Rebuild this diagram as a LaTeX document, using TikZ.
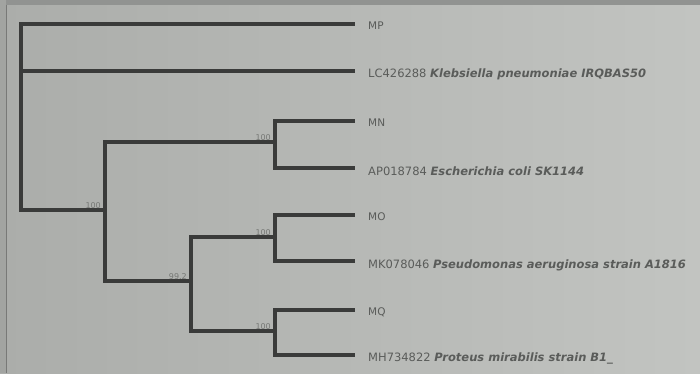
\documentclass[tikz,border=0pt]{standalone}
\usepackage{fontspec}
\setmainfont{DejaVu Sans}
\usetikzlibrary{positioning}
\definecolor{paperL}{HTML}{ABADAA}
\definecolor{paperR}{HTML}{C2C4C1}
\definecolor{ink}{HTML}{3A3B3A}
\definecolor{txt}{HTML}{5A5C5A}
\definecolor{boottxt}{HTML}{767875}
\begin{document}
\begin{tikzpicture}[x=1pt,y=-1pt,
  branch/.style={draw=ink,line width=3.6pt,line join=miter},
  leaf/.style={anchor=west,inner sep=0pt,text=txt,font=\fontsize{10.5}{12}\selectfont},
  taxon/.style={leaf,font=\fontsize{11.5}{13}\selectfont},
  boot/.style={anchor=south east,inner sep=1pt,text=boottxt,font=\fontsize{8}{9}\selectfont}]
% paper
\useasboundingbox (0,0) rectangle (700,373);
\shade[left color=paperL,right color=paperR] (0,0) rectangle (700,373);
\fill[paperL!85!black] (0,0) rectangle (700,5);
\fill[paperL!95!black] (0,0) rectangle (6,373);
\draw[paperL!70!black,line width=1pt] (6.5,5) -- (6.5,373);
% leaf tips
\coordinate (tMP) at (355,24);
\coordinate (tLC) at (355,71);
\coordinate (tMN) at (355,121);
\coordinate (tAP) at (355,168);
\coordinate (tMO) at (355,215);
\coordinate (tMK) at (355,261);
\coordinate (tMQ) at (355,310);
\coordinate (tMH) at (355,355);
% inner nodes
\coordinate (nB) at (275,142);
\coordinate (nD) at (275,237);
\coordinate (nE) at (275,331);
\coordinate (nC) at (191,281);
\coordinate (nA) at (105,210);
\coordinate (nR) at (21,117);
% branches
\draw[branch] (nR) |- (tMP);
\draw[branch] (nR) |- (tLC);
\draw[branch] (nR) |- (nA);
\draw[branch] (nA) |- (nB);
\draw[branch] (nA) |- (nC);
\draw[branch] (nB) |- (tMN);
\draw[branch] (nB) |- (tAP);
\draw[branch] (nC) |- (nD);
\draw[branch] (nC) |- (nE);
\draw[branch] (nD) |- (tMO);
\draw[branch] (nD) |- (tMK);
\draw[branch] (nE) |- (tMQ);
\draw[branch] (nE) |- (tMH);
% bootstrap values
\node[boot] (bA) at ([xshift=-3pt,yshift=0pt]nA) {100};
\node[boot] (bB) at ([xshift=-3pt,yshift=0pt]nB) {100};
\node[boot] (bC) at ([xshift=-3pt,yshift=0pt]nC) {99.2};
\node[boot] (bD) at ([xshift=-3pt,yshift=0pt]nD) {100};
\node[boot] (bE) at ([xshift=-3pt,yshift=0pt]nE) {100};
% taxa
\node[leaf] (MP) at ([xshift=13pt,yshift=-2pt]tMP) {MP};
\node[taxon] (LC) at ([xshift=13pt,yshift=-3pt]tLC) {LC426288 \textbf{\textit{Klebsiella pneumoniae IRQBAS50}}};
\node[leaf] (MN) at ([xshift=13pt,yshift=-2pt]tMN) {MN};
\node[taxon] (AP) at ([xshift=13pt,yshift=-3pt]tAP) {AP018784 \textbf{\textit{Escherichia coli SK1144}}};
\node[leaf] (MO) at ([xshift=13pt,yshift=-2pt]tMO) {MO};
\node[taxon] (MK) at ([xshift=13pt,yshift=-4pt]tMK) {MK078046 \textbf{\textit{Pseudomonas aeruginosa strain A1816}}};
\node[leaf] (MQ) at ([xshift=13pt,yshift=-2pt]tMQ) {MQ};
\node[taxon] (MH) at ([xshift=13pt,yshift=-3pt]tMH) {MH734822 \textbf{\textit{Proteus mirabilis strain B1\_}}};
\end{tikzpicture}
\end{document}
